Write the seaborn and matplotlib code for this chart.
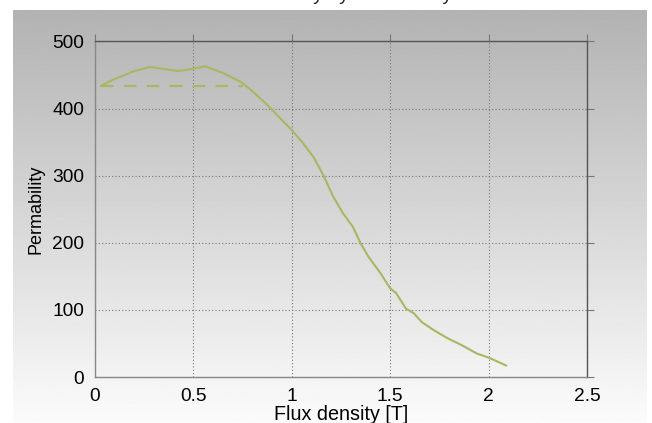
import numpy as np
import pandas as pd
import matplotlib
matplotlib.use("Agg")
import matplotlib.pyplot as plt
import seaborn as sns

# Data
flux = [0.03, 0.10, 0.20, 0.28, 0.35, 0.42, 0.49, 0.56, 0.65, 0.74, 0.80, 0.87, 0.94,
        1.00, 1.05, 1.11, 1.16, 1.21, 1.26, 1.31, 1.35, 1.39, 1.45, 1.50, 1.53,
        1.58, 1.62, 1.66, 1.72, 1.79, 1.86, 1.94, 2.00, 2.09]
permability = [434, 444, 456, 462, 459, 456, 459, 463, 453, 440, 426, 407, 386,
               368, 351, 328, 301, 269, 244, 224, 199, 179, 155, 132, 125,
               102, 95, 82, 70, 58, 48, 35, 29, 17]
dash_flux = [0.03, 0.75]
dash_perm = [434, 434]
x_ticks = [0, 0.5, 1, 1.5, 2, 2.5]
x_tick_labels = ["0", "0.5", "1", "1.5", "2", "2.5"]
y_ticks = [0, 100, 200, 300, 400, 500]

sns.set_theme(style="white")
plt.rcParams['font.family'] = ['Liberation Sans', 'DejaVu Sans']

fig = plt.figure(figsize=(6.52, 4.23), dpi=100)
fig.patch.set_facecolor("white")

# gradient background
bg = fig.add_axes([13/652, 0, (647-13)/652, (423-10)/423], zorder=0)
grad = np.linspace(0.70, 0.985, 256).reshape(-1, 1)
bg.imshow(grad, aspect="auto", cmap="gray", vmin=0, vmax=1,
          extent=[0, 1, 0, 1], origin="upper")
bg.axis("off")

ax = fig.add_axes([95/652, (423-377)/423, (587-95)/652, (377-41.5)/423], zorder=1)
ax.patch.set_alpha(0)

df = pd.DataFrame({"Flux density [T]": flux, "Permability": permability})
dfd = pd.DataFrame({"x": dash_flux, "y": dash_perm})
sns.lineplot(data=df, x="Flux density [T]", y="Permability", ax=ax,
             color="#a6b862", lw=1.5, sort=False)
sns.lineplot(data=dfd, x="x", y="y", ax=ax, color="#a6b862", lw=1.5,
             linestyle=(0, (6, 5)), sort=False)

ax.set_xlim(0, 2.5)
ax.set_ylim(0, 500)
ax.set_xticks(x_ticks)
ax.set_xticklabels(x_tick_labels)
ax.set_yticks(y_ticks)
ax.grid(True, linestyle=(0, (1, 2)), color="#777777", lw=0.8)
for s in ["left", "bottom"]:
    ax.spines[s].set_color("#888888")
    ax.spines[s].set_linewidth(1.0)
for s in ["top", "right"]:
    ax.spines[s].set_color("#555555")
    ax.spines[s].set_linestyle((0, (1, 1)))
    ax.spines[s].set_linewidth(1.0)
ax.tick_params(axis="both", direction="out", length=5, width=0.8, color="#777777",
               labelsize=13.8, labelcolor="black", pad=3)
ax.tick_params(axis="both", which="both", top=True, right=True)
ax.set_xlabel("Flux density [T]", fontsize=14.2, labelpad=0, color="black")
ax.set_ylabel("Permability", fontsize=13, labelpad=5, color="black")

fig.text(0.52, 1.0, "Permability by flux density", fontsize=14, ha="center",
         va="baseline", color="#222222")

fig.savefig("out.png", dpi=100)
